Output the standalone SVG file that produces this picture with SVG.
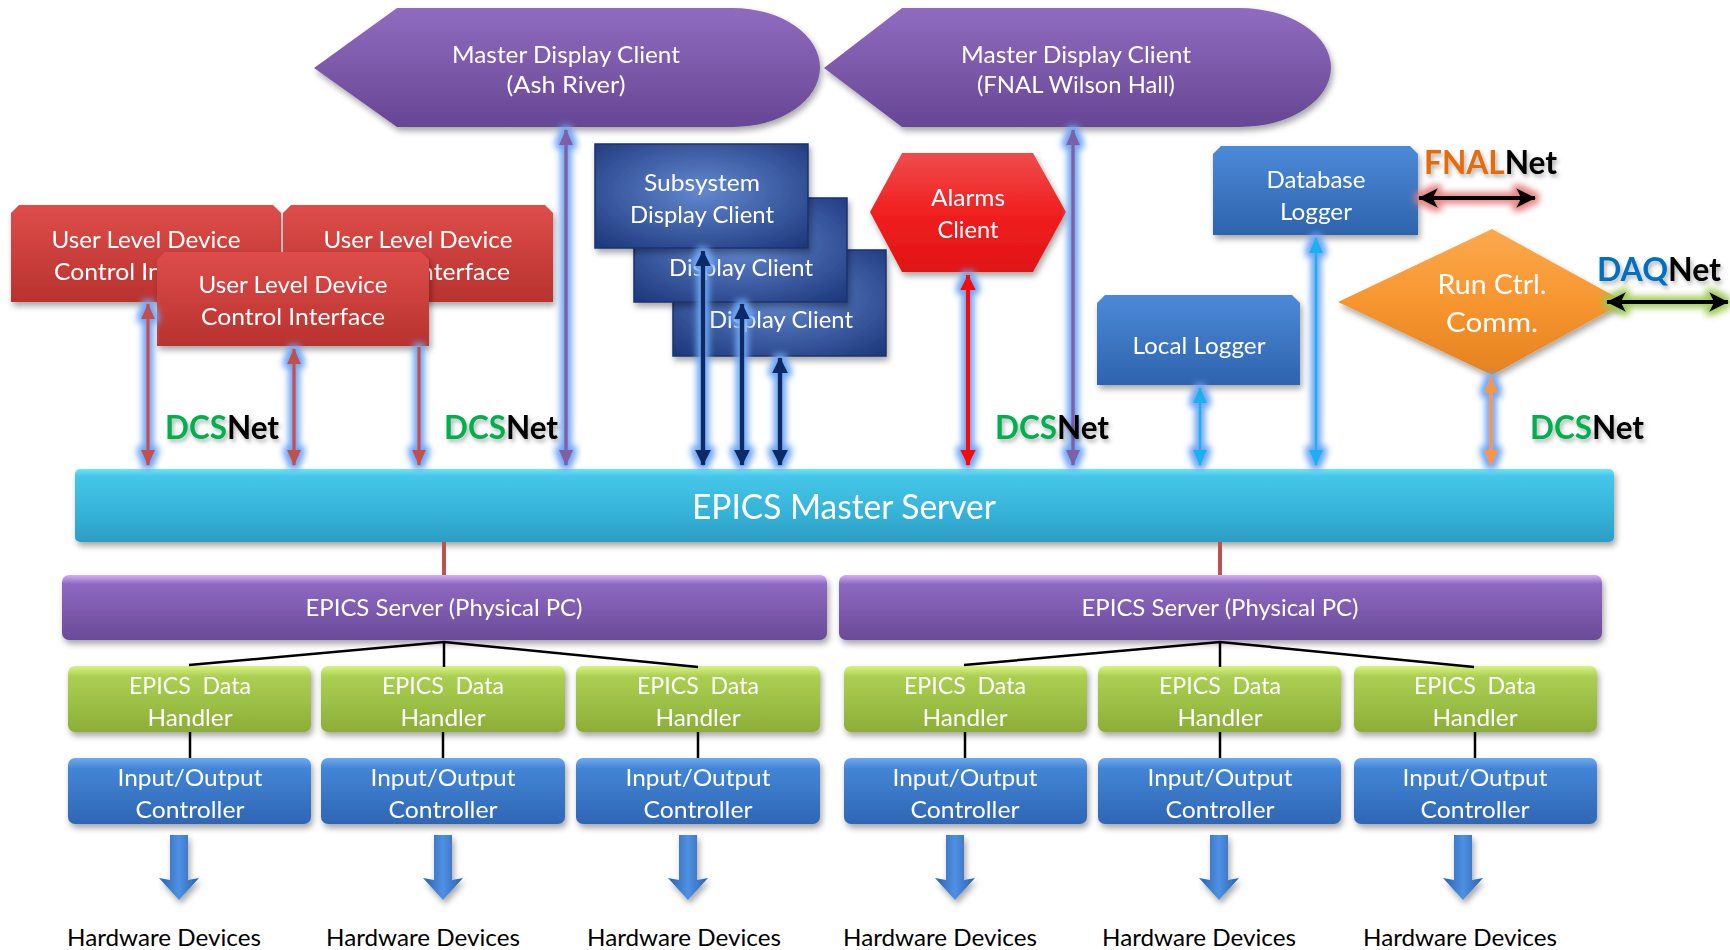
<svg xmlns="http://www.w3.org/2000/svg" width="1730" height="950" viewBox="0 0 1730 950">
<style>
.t{font-family:Lato,"Open Sans","Liberation Sans",sans-serif;fill:#fff;text-anchor:middle;font-size:24px}
.hw{font-family:Lato,"Open Sans","Liberation Sans",sans-serif;fill:#000;text-anchor:middle;font-size:24px}
.net{font-family:Lato,"Open Sans","Liberation Sans",sans-serif;font-weight:bold;font-size:32px}
.dcs{fill:#00b050}.blk{fill:#000}
.tree{stroke:#000;stroke-width:2.5;fill:none}
.redl{stroke:#c0504d;stroke-width:4}
</style>
<defs>
<linearGradient id="gPurple" x1="0" y1="0" x2="0" y2="1"><stop offset="0" stop-color="#8f6cc0"/><stop offset="0.5" stop-color="#7c59a9"/><stop offset="1" stop-color="#664694"/></linearGradient>
<linearGradient id="gRed" x1="0" y1="0" x2="0" y2="1"><stop offset="0" stop-color="#de4d49"/><stop offset="1" stop-color="#b8322f"/></linearGradient>
<radialGradient id="gNavy" cx="0.5" cy="0.45" r="0.7"><stop offset="0" stop-color="#6388d0"/><stop offset="1" stop-color="#1f3a7e"/></radialGradient>
<linearGradient id="gAlarm" x1="0" y1="0" x2="0" y2="1"><stop offset="0" stop-color="#f04c4c"/><stop offset="0.5" stop-color="#f02020"/><stop offset="1" stop-color="#e01414"/></linearGradient>
<linearGradient id="gBlue" x1="0" y1="0" x2="0" y2="1"><stop offset="0" stop-color="#4c8ad8"/><stop offset="1" stop-color="#2e63ad"/></linearGradient>
<linearGradient id="gOrange" x1="0" y1="0" x2="0" y2="1"><stop offset="0" stop-color="#fba94d"/><stop offset="0.5" stop-color="#f7962f"/><stop offset="1" stop-color="#e3821f"/></linearGradient>
<linearGradient id="gCyan" x1="0" y1="0" x2="0" y2="1"><stop offset="0" stop-color="#6ee4fa"/><stop offset="0.1" stop-color="#45c6e8"/><stop offset="0.6" stop-color="#36b3d8"/><stop offset="1" stop-color="#2c9dc4"/></linearGradient>
<linearGradient id="gSrv" x1="0" y1="0" x2="0" y2="1"><stop offset="0" stop-color="#d2aef8"/><stop offset="0.14" stop-color="#8e68c1"/><stop offset="1" stop-color="#6a4b98"/></linearGradient>
<linearGradient id="gGreen" x1="0" y1="0" x2="0" y2="1"><stop offset="0" stop-color="#d8f281"/><stop offset="0.16" stop-color="#abcf52"/><stop offset="1" stop-color="#8cae38"/></linearGradient>
<linearGradient id="gIO" x1="0" y1="0" x2="0" y2="1"><stop offset="0" stop-color="#6eaaf0"/><stop offset="0.16" stop-color="#4385d5"/><stop offset="1" stop-color="#2e66b5"/></linearGradient>
<linearGradient id="gArr" x1="0" y1="0" x2="1" y2="0"><stop offset="0" stop-color="#2a62ad"/><stop offset="0.5" stop-color="#4f90e2"/><stop offset="1" stop-color="#2a62ad"/></linearGradient>
<filter id="sh" x="-10%" y="-20%" width="130%" height="150%"><feDropShadow dx="2" dy="4" stdDeviation="3" flood-color="#000" flood-opacity="0.35"/></filter>
<filter id="tsh" x="-10%" y="-20%" width="130%" height="160%"><feDropShadow dx="2" dy="3" stdDeviation="2" flood-color="#000" flood-opacity="0.3"/></filter>
<filter id="glow" filterUnits="userSpaceOnUse" x="0" y="0" width="1730" height="950"><feMorphology in="SourceAlpha" operator="dilate" radius="4" result="d"/><feGaussianBlur in="d" stdDeviation="3" result="b"/><feFlood flood-color="#6ea6f4" flood-opacity="1"/><feComposite in2="b" operator="in" result="g"/><feMerge><feMergeNode in="g"/><feMergeNode in="SourceGraphic"/></feMerge></filter>
<filter id="glowR" filterUnits="userSpaceOnUse" x="0" y="0" width="1730" height="950"><feMorphology in="SourceAlpha" operator="dilate" radius="4" result="d"/><feGaussianBlur in="d" stdDeviation="3" result="b"/><feFlood flood-color="#e57a7a" flood-opacity="0.9"/><feComposite in2="b" operator="in" result="g"/><feMerge><feMergeNode in="g"/><feMergeNode in="SourceGraphic"/></feMerge></filter>
<filter id="glowG" filterUnits="userSpaceOnUse" x="0" y="0" width="1730" height="950"><feMorphology in="SourceAlpha" operator="dilate" radius="4" result="d"/><feGaussianBlur in="d" stdDeviation="3" result="b"/><feFlood flood-color="#98c84c" flood-opacity="0.9"/><feComposite in2="b" operator="in" result="g"/><feMerge><feMergeNode in="g"/><feMergeNode in="SourceGraphic"/></feMerge></filter>
<marker id="mRed" viewBox="0 0 16 14" refX="15" refY="7" markerWidth="16" markerHeight="14" markerUnits="userSpaceOnUse" orient="auto-start-reverse"><path d="M0,0 L16,7 L0,14 Z" fill="#c0504d"/></marker>
<marker id="mPur" viewBox="0 0 16 14" refX="15" refY="7" markerWidth="16" markerHeight="14" markerUnits="userSpaceOnUse" orient="auto-start-reverse"><path d="M0,0 L16,7 L0,14 Z" fill="#7f5fa6"/></marker>
<marker id="mNavy" viewBox="0 0 16 16" refX="15" refY="8" markerWidth="16" markerHeight="16" markerUnits="userSpaceOnUse" orient="auto-start-reverse"><path d="M0,0 L16,8 L0,16 Z" fill="#0d2a66"/></marker>
<marker id="mAl" viewBox="0 0 16 16" refX="15" refY="8" markerWidth="16" markerHeight="16" markerUnits="userSpaceOnUse" orient="auto-start-reverse"><path d="M0,0 L16,8 L0,16 Z" fill="#f01010"/></marker>
<marker id="mLb" viewBox="0 0 16 14" refX="15" refY="7" markerWidth="16" markerHeight="14" markerUnits="userSpaceOnUse" orient="auto-start-reverse"><path d="M0,0 L16,7 L0,14 Z" fill="#1fb0ee"/></marker>
<marker id="mOr" viewBox="0 0 16 14" refX="15" refY="7" markerWidth="16" markerHeight="14" markerUnits="userSpaceOnUse" orient="auto-start-reverse"><path d="M0,0 L16,7 L0,14 Z" fill="#f79646"/></marker>
<marker id="mBk" viewBox="0 0 20 20" refX="19" refY="10" markerWidth="20" markerHeight="20" markerUnits="userSpaceOnUse" orient="auto-start-reverse"><path d="M0,0 L20,10 L0,20 L5,10 Z" fill="#000"/></marker>
</defs>
<rect width="1730" height="950" fill="#fff"/>

<g id="master-display-ash" filter="url(#sh)">
<path d="M314,68 L397,8 L733,8 A87,59.5 0 0 1 733,127 L397,127 Z" fill="url(#gPurple)"/>
<text class="t" x="566" y="63" textLength="228" lengthAdjust="spacingAndGlyphs">Master Display Client</text>
<text class="t" x="566" y="93" textLength="119" lengthAdjust="spacingAndGlyphs">(Ash River)</text>
</g>
<g id="master-display-fnal" filter="url(#sh)">
<path d="M824,68 L902,8 L1240,8 A91,59.5 0 0 1 1240,127 L902,127 Z" fill="url(#gPurple)"/>
<text class="t" x="1076" y="63" textLength="230" lengthAdjust="spacingAndGlyphs">Master Display Client</text>
<text class="t" x="1076" y="93" textLength="198" lengthAdjust="spacingAndGlyphs">(FNAL Wilson Hall)</text>
</g>

<g id="user-ctrl-a" filter="url(#sh)">
<path d="M11,213 L19,205 L273,205 L281,213 L281,302 L11,302 Z" fill="url(#gRed)"/>
<text class="t" x="146" y="248" textLength="189" lengthAdjust="spacingAndGlyphs">User Level Device</text>
<text class="t" x="146" y="280" textLength="184" lengthAdjust="spacingAndGlyphs">Control Interface</text>
</g>
<g id="user-ctrl-b" filter="url(#sh)">
<path d="M283,213 L291,205 L545,205 L553,213 L553,302 L283,302 Z" fill="url(#gRed)"/>
<text class="t" x="418" y="248" textLength="189" lengthAdjust="spacingAndGlyphs">User Level Device</text>
<text class="t" x="418" y="280" textLength="184" lengthAdjust="spacingAndGlyphs">Control Interface</text>
</g>
<g id="user-ctrl-c" filter="url(#sh)">
<path d="M157,260 L165,252 L421,252 L429,260 L429,346 L157,346 Z" fill="url(#gRed)"/>
<text class="t" x="293" y="293" textLength="189" lengthAdjust="spacingAndGlyphs">User Level Device</text>
<text class="t" x="293" y="325" textLength="184" lengthAdjust="spacingAndGlyphs">Control Interface</text>
</g>

<g id="display-client-3" filter="url(#sh)">
<rect x="673" y="250" width="213" height="106" fill="url(#gNavy)" stroke="#1a3270" stroke-width="1.5"/>
<text class="t" x="781" y="328" textLength="144" lengthAdjust="spacingAndGlyphs">Display Client</text>
</g>
<g id="display-client-2" filter="url(#sh)">
<rect x="634" y="198" width="213" height="104" fill="url(#gNavy)" stroke="#1a3270" stroke-width="1.5"/>
<text class="t" x="741" y="276" textLength="144" lengthAdjust="spacingAndGlyphs">Display Client</text>
</g>
<g id="subsystem-display-client" filter="url(#sh)">
<rect x="595" y="144" width="213" height="104" fill="url(#gNavy)" stroke="#1a3270" stroke-width="1.5"/>
<text class="t" x="702" y="191" textLength="116" lengthAdjust="spacingAndGlyphs">Subsystem</text>
<text class="t" x="702" y="223" textLength="144" lengthAdjust="spacingAndGlyphs">Display Client</text>
</g>

<g id="alarms-client" filter="url(#sh)">
<polygon points="870,212 902,153 1033,153 1066,212 1033,272 902,272" fill="url(#gAlarm)"/>
<text class="t" x="968" y="206" textLength="74" lengthAdjust="spacingAndGlyphs">Alarms</text>
<text class="t" x="968" y="238" textLength="61" lengthAdjust="spacingAndGlyphs">Client</text>
</g>

<g id="database-logger" filter="url(#sh)">
<path d="M1213,154 L1221,146 L1410,146 L1418,154 L1418,235 L1213,235 Z" fill="url(#gBlue)"/>
<text class="t" x="1316" y="188" textLength="99" lengthAdjust="spacingAndGlyphs">Database</text>
<text class="t" x="1316" y="220" textLength="72" lengthAdjust="spacingAndGlyphs">Logger</text>
</g>
<g id="local-logger" filter="url(#sh)">
<path d="M1097,303 L1105,295 L1292,295 L1300,303 L1300,385 L1097,385 Z" fill="url(#gBlue)"/>
<text class="t" x="1199" y="354" textLength="133" lengthAdjust="spacingAndGlyphs">Local Logger</text>
</g>
<g id="run-ctrl-comm" filter="url(#sh)">
<polygon points="1338,302 1492,229 1625,302 1492,375" fill="url(#gOrange)"/>
<text class="t" x="1492" y="294" textLength="109" lengthAdjust="spacingAndGlyphs" style="font-size:27px">Run Ctrl.</text>
<text class="t" x="1492" y="332" textLength="92" lengthAdjust="spacingAndGlyphs" style="font-size:27px">Comm.</text>
</g>

<g id="epics-master-server" filter="url(#sh)">
<rect x="75" y="469" width="1539" height="73" rx="5" fill="url(#gCyan)"/>
<text class="t" x="844" y="519" textLength="304" lengthAdjust="spacingAndGlyphs" style="font-size:34px">EPICS Master Server</text>
</g>

<g id="epics-server-1" filter="url(#sh)">
<rect x="62" y="575" width="765" height="65" rx="7" fill="url(#gSrv)"/>
<text class="t" x="444" y="616" textLength="277" lengthAdjust="spacingAndGlyphs">EPICS Server (Physical PC)</text>
</g>
<g id="epics-server-2" filter="url(#sh)">
<rect x="839" y="575" width="763" height="65" rx="7" fill="url(#gSrv)"/>
<text class="t" x="1220" y="616" textLength="277" lengthAdjust="spacingAndGlyphs">EPICS Server (Physical PC)</text>
</g>

<g id="data-handler-1" filter="url(#sh)"><rect x="68" y="666" width="243" height="66" rx="7" fill="url(#gGreen)"/><text class="t" x="190" y="694" textLength="122" lengthAdjust="spacingAndGlyphs" xml:space="preserve">EPICS  Data</text><text class="t" x="190" y="726" textLength="85" lengthAdjust="spacingAndGlyphs">Handler</text></g>
<g id="data-handler-2" filter="url(#sh)"><rect x="321" y="666" width="244" height="66" rx="7" fill="url(#gGreen)"/><text class="t" x="443" y="694" textLength="122" lengthAdjust="spacingAndGlyphs" xml:space="preserve">EPICS  Data</text><text class="t" x="443" y="726" textLength="85" lengthAdjust="spacingAndGlyphs">Handler</text></g>
<g id="data-handler-3" filter="url(#sh)"><rect x="576" y="666" width="244" height="66" rx="7" fill="url(#gGreen)"/><text class="t" x="698" y="694" textLength="122" lengthAdjust="spacingAndGlyphs" xml:space="preserve">EPICS  Data</text><text class="t" x="698" y="726" textLength="85" lengthAdjust="spacingAndGlyphs">Handler</text></g>
<g id="data-handler-4" filter="url(#sh)"><rect x="844" y="666" width="243" height="66" rx="7" fill="url(#gGreen)"/><text class="t" x="965" y="694" textLength="122" lengthAdjust="spacingAndGlyphs" xml:space="preserve">EPICS  Data</text><text class="t" x="965" y="726" textLength="85" lengthAdjust="spacingAndGlyphs">Handler</text></g>
<g id="data-handler-5" filter="url(#sh)"><rect x="1098" y="666" width="243" height="66" rx="7" fill="url(#gGreen)"/><text class="t" x="1220" y="694" textLength="122" lengthAdjust="spacingAndGlyphs" xml:space="preserve">EPICS  Data</text><text class="t" x="1220" y="726" textLength="85" lengthAdjust="spacingAndGlyphs">Handler</text></g>
<g id="data-handler-6" filter="url(#sh)"><rect x="1354" y="666" width="243" height="66" rx="7" fill="url(#gGreen)"/><text class="t" x="1475" y="694" textLength="122" lengthAdjust="spacingAndGlyphs" xml:space="preserve">EPICS  Data</text><text class="t" x="1475" y="726" textLength="85" lengthAdjust="spacingAndGlyphs">Handler</text></g>

<g id="ioc-1" filter="url(#sh)"><rect x="68" y="758" width="243" height="66" rx="7" fill="url(#gIO)"/><text class="t" x="190" y="786" textLength="145" lengthAdjust="spacingAndGlyphs">Input/Output</text><text class="t" x="190" y="818" textLength="109" lengthAdjust="spacingAndGlyphs">Controller</text></g>
<g id="ioc-2" filter="url(#sh)"><rect x="321" y="758" width="244" height="66" rx="7" fill="url(#gIO)"/><text class="t" x="443" y="786" textLength="145" lengthAdjust="spacingAndGlyphs">Input/Output</text><text class="t" x="443" y="818" textLength="109" lengthAdjust="spacingAndGlyphs">Controller</text></g>
<g id="ioc-3" filter="url(#sh)"><rect x="576" y="758" width="244" height="66" rx="7" fill="url(#gIO)"/><text class="t" x="698" y="786" textLength="145" lengthAdjust="spacingAndGlyphs">Input/Output</text><text class="t" x="698" y="818" textLength="109" lengthAdjust="spacingAndGlyphs">Controller</text></g>
<g id="ioc-4" filter="url(#sh)"><rect x="844" y="758" width="243" height="66" rx="7" fill="url(#gIO)"/><text class="t" x="965" y="786" textLength="145" lengthAdjust="spacingAndGlyphs">Input/Output</text><text class="t" x="965" y="818" textLength="109" lengthAdjust="spacingAndGlyphs">Controller</text></g>
<g id="ioc-5" filter="url(#sh)"><rect x="1098" y="758" width="243" height="66" rx="7" fill="url(#gIO)"/><text class="t" x="1220" y="786" textLength="145" lengthAdjust="spacingAndGlyphs">Input/Output</text><text class="t" x="1220" y="818" textLength="109" lengthAdjust="spacingAndGlyphs">Controller</text></g>
<g id="ioc-6" filter="url(#sh)"><rect x="1354" y="758" width="243" height="66" rx="7" fill="url(#gIO)"/><text class="t" x="1475" y="786" textLength="145" lengthAdjust="spacingAndGlyphs">Input/Output</text><text class="t" x="1475" y="818" textLength="109" lengthAdjust="spacingAndGlyphs">Controller</text></g>

<g id="hardware-labels">
<text class="hw" x="164" y="946" textLength="194" lengthAdjust="spacingAndGlyphs">Hardware Devices</text>
<text class="hw" x="423" y="946" textLength="194" lengthAdjust="spacingAndGlyphs">Hardware Devices</text>
<text class="hw" x="684" y="946" textLength="194" lengthAdjust="spacingAndGlyphs">Hardware Devices</text>
<text class="hw" x="940" y="946" textLength="194" lengthAdjust="spacingAndGlyphs">Hardware Devices</text>
<text class="hw" x="1199" y="946" textLength="194" lengthAdjust="spacingAndGlyphs">Hardware Devices</text>
<text class="hw" x="1460" y="946" textLength="194" lengthAdjust="spacingAndGlyphs">Hardware Devices</text>
</g>

<g id="connectors">
<line x1="148" y1="304" x2="148" y2="465" stroke="#c0504d" stroke-width="3.5" marker-start="url(#mRed)" marker-end="url(#mRed)" filter="url(#glow)"/>
<line x1="294" y1="349" x2="294" y2="465" stroke="#c0504d" stroke-width="3.5" marker-start="url(#mRed)" marker-end="url(#mRed)" filter="url(#glow)"/>
<line x1="419" y1="347" x2="419" y2="465" stroke="#c0504d" stroke-width="3.5" marker-end="url(#mRed)" filter="url(#glow)"/>
<line x1="566" y1="130" x2="566" y2="465" stroke="#7f5fa6" stroke-width="3.5" marker-start="url(#mPur)" marker-end="url(#mPur)" filter="url(#glow)"/>
<line x1="1073" y1="130" x2="1073" y2="465" stroke="#7f5fa6" stroke-width="3.5" marker-start="url(#mPur)" marker-end="url(#mPur)" filter="url(#glow)"/>
<line x1="703" y1="251" x2="703" y2="465" stroke="#0d2a66" stroke-width="4.5" marker-start="url(#mNavy)" marker-end="url(#mNavy)" filter="url(#glow)"/>
<line x1="742" y1="304" x2="742" y2="465" stroke="#0d2a66" stroke-width="4.5" marker-start="url(#mNavy)" marker-end="url(#mNavy)" filter="url(#glow)"/>
<line x1="780" y1="358" x2="780" y2="465" stroke="#0d2a66" stroke-width="4.5" marker-start="url(#mNavy)" marker-end="url(#mNavy)" filter="url(#glow)"/>
<line x1="968" y1="275" x2="968" y2="465" stroke="#f01010" stroke-width="4.5" marker-start="url(#mAl)" marker-end="url(#mAl)" filter="url(#glow)"/>
<line x1="1316" y1="238" x2="1316" y2="465" stroke="#1fb0ee" stroke-width="2.5" marker-start="url(#mLb)" marker-end="url(#mLb)" filter="url(#glow)"/>
<line x1="1200" y1="388" x2="1200" y2="465" stroke="#1fb0ee" stroke-width="2.5" marker-start="url(#mLb)" marker-end="url(#mLb)" filter="url(#glow)"/>
<line x1="1491" y1="378" x2="1491" y2="465" stroke="#f79646" stroke-width="3.5" marker-start="url(#mOr)" marker-end="url(#mOr)" filter="url(#glow)"/>
<line x1="1419" y1="198" x2="1535" y2="198" stroke="#000" stroke-width="4" marker-start="url(#mBk)" marker-end="url(#mBk)" filter="url(#glowR)"/>
<line x1="1607" y1="302" x2="1728" y2="302" stroke="#000" stroke-width="4" marker-start="url(#mBk)" marker-end="url(#mBk)" filter="url(#glowG)"/>
<line class="redl" x1="444" y1="542" x2="444" y2="575"/>
<line class="redl" x1="1220" y1="542" x2="1220" y2="575"/>
<path class="tree" d="M189,665 L444,642 L698,667 M444,642 L444,667"/>
<path class="tree" d="M964,665 L1220,642 L1474,667 M1220,642 L1220,667"/>
<path class="tree" d="M190,732 V758 M443,732 V758 M698,732 V758 M965,732 V758 M1220,732 V758 M1475,732 V758"/>
<g fill="url(#gArr)" filter="url(#sh)">
<path d="M170,835 H188 V880 L199,878 L179,900 L159,878 L170,880 Z"/>
<path d="M434,835 H452 V880 L463,878 L443,900 L423,878 L434,880 Z"/>
<path d="M679,835 H697 V880 L708,878 L688,900 L668,878 L679,880 Z"/>
<path d="M946,835 H964 V880 L975,878 L955,900 L935,878 L946,880 Z"/>
<path d="M1210,835 H1228 V880 L1239,878 L1219,900 L1199,878 L1210,880 Z"/>
<path d="M1454,835 H1472 V880 L1483,878 L1463,900 L1443,878 L1454,880 Z"/>
</g>
</g>

<g id="net-labels" filter="url(#tsh)">
<text class="net" x="165" y="439" textLength="114" lengthAdjust="spacingAndGlyphs"><tspan class="dcs">DCS</tspan><tspan class="blk">Net</tspan></text>
<text class="net" x="444" y="439" textLength="114" lengthAdjust="spacingAndGlyphs"><tspan class="dcs">DCS</tspan><tspan class="blk">Net</tspan></text>
<text class="net" x="995" y="439" textLength="114" lengthAdjust="spacingAndGlyphs"><tspan class="dcs">DCS</tspan><tspan class="blk">Net</tspan></text>
<text class="net" x="1530" y="439" textLength="114" lengthAdjust="spacingAndGlyphs"><tspan class="dcs">DCS</tspan><tspan class="blk">Net</tspan></text>
<text class="net" x="1424" y="174" textLength="133" lengthAdjust="spacingAndGlyphs"><tspan fill="#e46c0a">FNAL</tspan><tspan class="blk">Net</tspan></text>
<text class="net" x="1597" y="281" textLength="124" lengthAdjust="spacingAndGlyphs"><tspan fill="#0070c0">DAQ</tspan><tspan class="blk">Net</tspan></text>
</g>
</svg>
